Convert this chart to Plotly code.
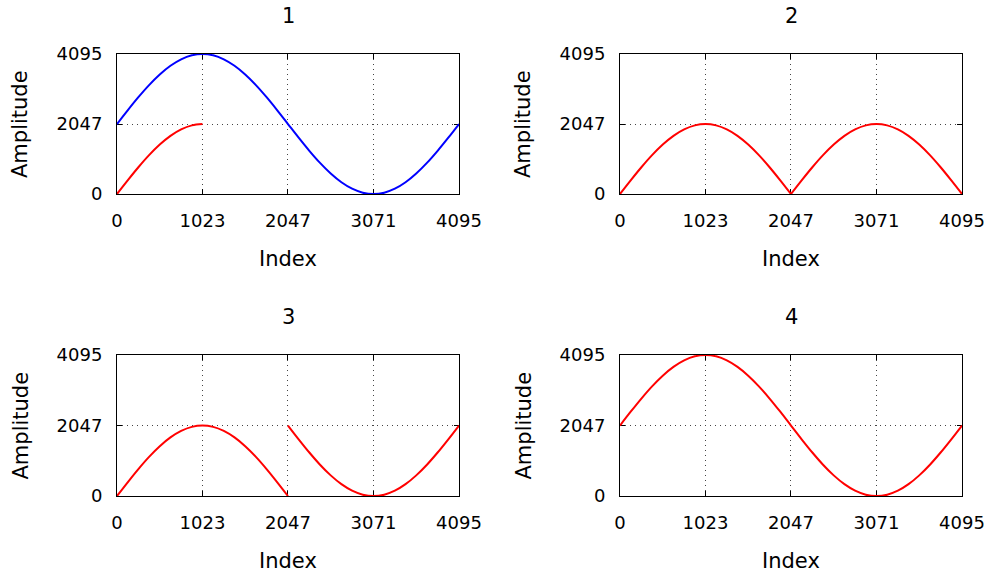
import plotly.graph_objects as go

idx_full = [0, 128, 256, 384, 512, 640, 768, 896, 1023, 1151, 1279, 1407, 1535, 1663, 1791, 1919,
            2047, 2175, 2303, 2431, 2559, 2687, 2815, 2943, 3071, 3199, 3327, 3455, 3583, 3711,
            3839, 3967, 4095]
idx_first = idx_full[:17]
idx_second = idx_full[16:]
idx_quarter = idx_full[:9]

full_sine = [2047, 2447, 2831, 3185, 3495, 3750, 3939, 4056, 4095, 4056, 3939, 3750, 3495, 3185,
             2831, 2447, 2047, 1647, 1263, 909, 599, 344, 155, 39, 0, 39, 155, 344, 599, 909,
             1263, 1647, 2047]
half_arch = [0, 399, 783, 1137, 1447, 1702, 1891, 2008, 2047, 2008, 1891, 1702, 1447, 1137, 783,
             399, 0]
quarter_rise = [0, 399, 783, 1137, 1447, 1702, 1891, 2008, 2047]
second_half_dip = [2047, 1647, 1263, 909, 599, 344, 155, 39, 0, 39, 155, 344, 599, 909, 1263,
                   1647, 2047]

panel_titles = ["1", "2", "3", "4"]
x_ticks = [0, 1023, 2047, 3071, 4095]
y_ticks = [0, 2047, 4095]

RED = "#ff0000"
BLUE = "#0000ff"
FONT = "DejaVu Sans"

fig = go.Figure()

def add(x, y, color, ax):
    fig.add_trace(go.Scatter(x=x, y=y, mode="lines", line=dict(color=color, width=2, shape="spline"),
                             xaxis="x" + ax, yaxis="y" + ax, showlegend=False, hoverinfo="skip",
                             cliponaxis=False))

# panel 1
add(idx_full, full_sine, BLUE, "")
add(idx_quarter, quarter_rise, RED, "")
# panel 2
add(idx_first, half_arch, RED, "2")
add(idx_second, half_arch, RED, "2")
# panel 3
add(idx_first, half_arch, RED, "3")
add(idx_second, second_half_dip, RED, "3")
# panel 4
add(idx_full, full_sine, RED, "4")

W, H = 987, 577
xdoms = [[117 / W, 459 / W], [620 / W, 962 / W]]
ydoms = [[1 - 194 / H, 1 - 54 / H], [1 - 496 / H, 1 - 355 / H]]

common = dict(range=[0, 4095], ticks="inside", ticklen=5, tickcolor="black",
              showline=True, linecolor="black", linewidth=1, mirror="ticks",
              showgrid=True, gridcolor="#444", griddash="1px,4px", gridwidth=1, zeroline=False,
              tickfont=dict(family=FONT, size=18, color="black"), layer="below traces")

def xaxis(dom, anchor):
    return dict(domain=dom, anchor=anchor, tickvals=x_ticks,
                ticktext=[str(v) for v in x_ticks], ticklabelstandoff=10, **common)

def yaxis(dom, anchor):
    return dict(domain=dom, anchor=anchor, tickvals=y_ticks,
                ticktext=[str(v) for v in y_ticks], ticklabelstandoff=10, **common)

layout = dict(width=W, height=H, margin=dict(l=0, r=0, t=0, b=0, pad=0, autoexpand=False),
              paper_bgcolor="white", plot_bgcolor="white",
              font=dict(family=FONT, color="black"))
names = ["", "2", "3", "4"]
positions = [(0, 0), (1, 0), (0, 1), (1, 1)]
annotations = []
for n, (ci, ri), t in zip(names, positions, panel_titles):
    layout["xaxis" + n] = xaxis(xdoms[ci], "y" + n)
    layout["yaxis" + n] = yaxis(ydoms[ri], "x" + n)
    xc = (xdoms[ci][0] + xdoms[ci][1]) / 2
    top_px = 54 if ri == 0 else 355
    bot_px = 194 if ri == 0 else 496
    annotations.append(dict(text=t, x=xc, y=1 - (top_px - 38) / H, xref="paper", yref="paper",
                            showarrow=False, xanchor="center", yanchor="middle",
                            font=dict(family=FONT, size=21, color="black")))
    annotations.append(dict(text="Index", x=xc, y=1 - (bot_px + 65) / H, xref="paper", yref="paper",
                            showarrow=False, xanchor="center", yanchor="middle",
                            font=dict(family=FONT, size=21, color="black")))
    annotations.append(dict(text="Amplitude", x=(xdoms[ci][0] * W - 97) / W,
                            y=1 - ((top_px + bot_px) / 2) / H, xref="paper", yref="paper",
                            showarrow=False, xanchor="center", yanchor="middle", textangle=-90,
                            font=dict(family=FONT, size=21, color="black")))
layout["annotations"] = annotations
fig.update_layout(**layout)
fig.write_html("out.html")
